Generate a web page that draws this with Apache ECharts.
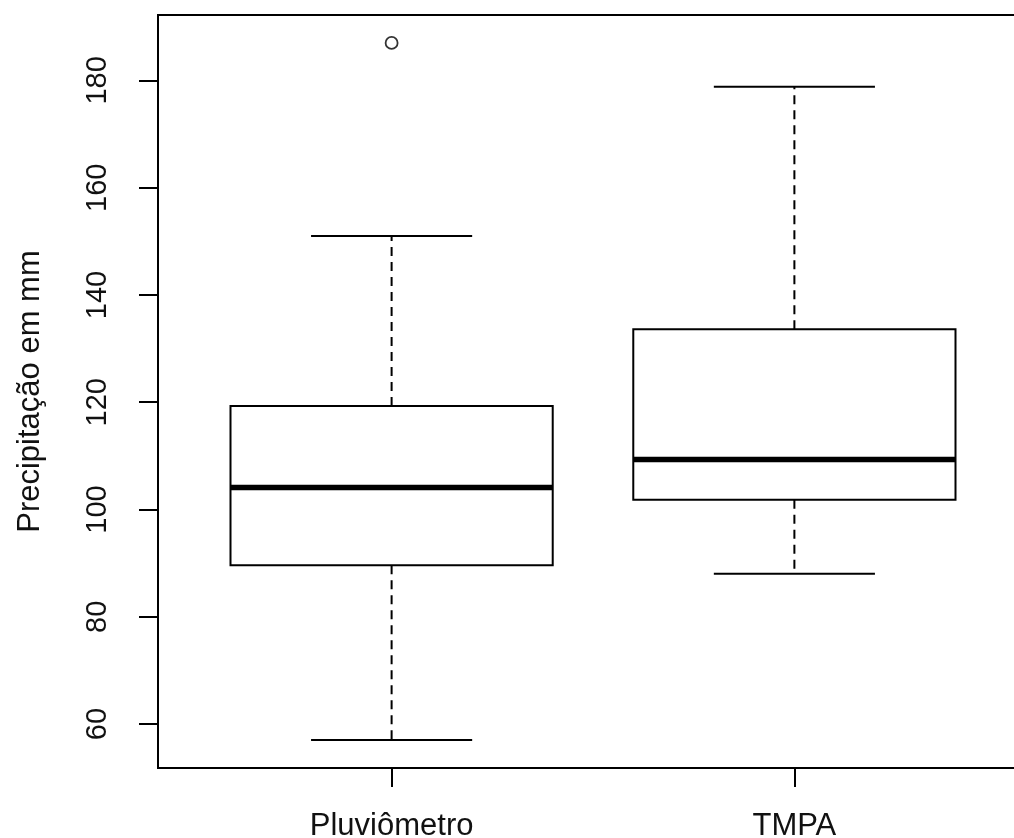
<!DOCTYPE html>
<html>
<head>
<meta charset="utf-8">
<script src="https://cdn.jsdelivr.net/npm/echarts@6/dist/echarts.min.js"></script>
<style>html,body{margin:0;padding:0;background:#fff;overflow:hidden;width:1014px;height:838px;}#c{width:1030px;height:838px;}</style>
</head>
<body>
<div id="c"></div>
<script>
const categories = ['Pluviômetro', 'TMPA'];
const positions = [1, 2];
const whiskerLow = [57, 88];
const q1 = [89.6, 101.8];
const median = [104.1, 109.3];
const q3 = [119.3, 133.6];
const whiskerHigh = [151, 178.8];
const outliers = [[1, 187]];
const yTicks = [60, 80, 100, 120, 140, 160, 180];
const xTicks = [1, 2];

const boxData = positions.map((p, i) => [p, whiskerLow[i], q1[i], median[i], q3[i], whiskerHigh[i]]);
const FONT = "'Liberation Sans', Arial, sans-serif";
const BOX_HALF = 0.4, CAP_HALF = 0.2;

const chart = echarts.init(document.getElementById('c'), null, {renderer: 'canvas'});
chart.setOption({
  animation: false,
  backgroundColor: '#fff',
  grid: {left: 158, top: 15, right: 2, bottom: 70, show: true, borderColor: '#000', borderWidth: 2,
    backgroundColor: 'transparent', outerBoundsMode: 'none', containLabel: false},
  xAxis: {
    type: 'value', min: 0.42, max: 2.58,
    axisLine: {show: false},
    splitLine: {show: false},
    axisTick: {show: true, customValues: xTicks, length: 19, lineStyle: {color: '#000', width: 2}},
    axisLabel: {show: true, customValues: xTicks, margin: 43, color: '#111', fontFamily: FONT, fontSize: 31,
      formatter: v => categories[Math.round(v) - 1] || ''}
  },
  yAxis: {
    type: 'value', min: 51.8, max: 192.2,
    name: 'Precipitação em mm', nameLocation: 'middle', nameGap: 112,
    nameTextStyle: {color: '#111', fontFamily: FONT, fontSize: 31},
    axisLine: {show: false},
    splitLine: {show: false},
    axisTick: {show: true, customValues: yTicks, length: 19, lineStyle: {color: '#000', width: 2}},
    axisLabel: {show: true, customValues: yTicks, rotate: 90, margin: 46, color: '#111', fontFamily: FONT, fontSize: 29}
  },
  series: [
    {
      type: 'custom',
      data: boxData,
      encode: {x: 0, y: [1, 2, 3, 4, 5]},
      renderItem: function (params, api) {
        const x = api.value(0);
        const lo = api.value(1), a = api.value(2), m = api.value(3), b = api.value(4), hi = api.value(5);
        const tl = api.coord([x - BOX_HALF, b]);
        const br = api.coord([x + BOX_HALF, a]);
        const mc = api.coord([x, m]);
        const ml = api.coord([x - BOX_HALF, m]);
        const mr = api.coord([x + BOX_HALF, m]);
        const cHi = api.coord([x, hi]);
        const cLo = api.coord([x, lo]);
        const capL = api.coord([x - CAP_HALF, hi]);
        const capR = api.coord([x + CAP_HALF, hi]);
        const capL2 = api.coord([x - CAP_HALF, lo]);
        const capR2 = api.coord([x + CAP_HALF, lo]);
        const cx = mc[0];
        const solid = {stroke: '#000', lineWidth: 2, fill: null};
        const dashed = {stroke: '#000', lineWidth: 2, lineDash: [9, 6], fill: null};
        return {
          type: 'group',
          children: [
            {type: 'line', shape: {x1: cx, y1: tl[1], x2: cx, y2: cHi[1]}, style: dashed},
            {type: 'line', shape: {x1: cx, y1: br[1], x2: cx, y2: cLo[1]}, style: dashed},
            {type: 'line', shape: {x1: capL[0], y1: capL[1], x2: capR[0], y2: capR[1]}, style: solid},
            {type: 'line', shape: {x1: capL2[0], y1: capL2[1], x2: capR2[0], y2: capR2[1]}, style: solid},
            {type: 'rect', shape: {x: tl[0], y: tl[1], width: br[0] - tl[0], height: br[1] - tl[1]}, style: {stroke: '#000', lineWidth: 2, fill: '#fff'}},
            {type: 'line', shape: {x1: ml[0], y1: ml[1], x2: mr[0], y2: mr[1]}, style: {stroke: '#000', lineWidth: 5.5}}
          ]
        };
      }
    },
    {
      type: 'scatter',
      data: outliers,
      symbol: 'circle',
      symbolSize: 12,
      itemStyle: {color: '#fff', borderColor: '#000', borderWidth: 1.8}
    }
  ]
});
</script>
</body>
</html>
